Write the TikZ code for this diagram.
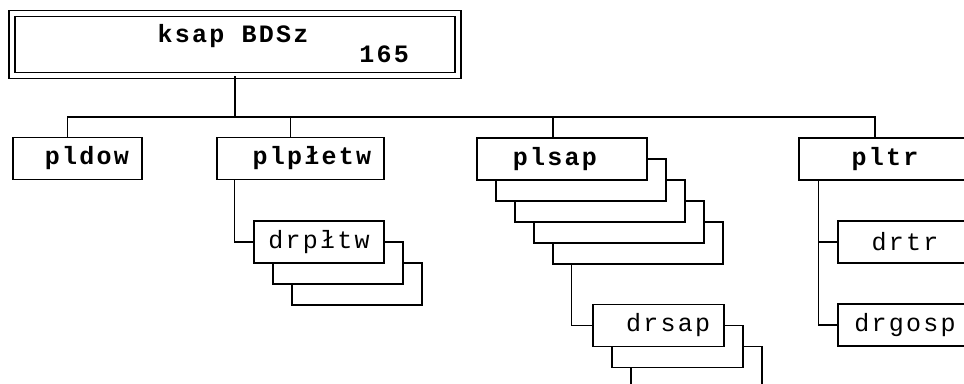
\documentclass[tikz,border=0pt]{standalone}
\usepackage{fontspec}
\usepackage{tikz}
\newfontfamily\boxfont{Liberation Mono}[LetterSpace=9]

\begin{document}
\begin{tikzpicture}[x=1pt, y=-1pt, line width=1.3pt,
    box/.style={draw, fill=white, minimum height=42pt, inner sep=0pt,
                font=\boxfont\fontsize{25}{27}\selectfont},
    plbox/.style={box, font=\boxfont\bfseries\fontsize{25}{27}\selectfont},
    topbox/.style={draw, double, double distance=4.7pt, minimum width=446pt,
                   minimum height=62.5pt, inner sep=0pt},
    titletext/.style={inner sep=0pt, anchor=base, font=\boxfont\bfseries\fontsize{25}{27}\selectfont}]

    \useasboundingbox (0,0) rectangle (964,383);

    % Top box
    \node[topbox] (ksap) at (235,44.5) {};
    \node[titletext] (title) at (233,42) {ksap BDSz};
    \node[titletext] (num) at (384,62) {165};

    % First level
    \node[plbox, minimum width=129pt] (pldow) at (77.5,158.5) {\hspace*{19pt}pldow};
    \node[plbox, minimum width=167pt] (plpletw) at (300.5,158.5) {\hspace*{23pt}plpłetw};
    \node[plbox, minimum width=170pt] (sap4) at (638,243) {};
    \node[plbox, minimum width=170pt] (sap3) at (619,222) {};
    \node[plbox, minimum width=170pt] (sap2) at (600,201) {};
    \node[plbox, minimum width=170pt] (sap1) at (581,180) {};
    \node[plbox, minimum width=170pt] (plsap) at (562,159) {plsap\hspace*{14pt}};
    \node[plbox, minimum width=172pt] (pltr) at (885,159) {pltr};

    % Second level
    \node[box, minimum width=130pt] (drpltw2) at (357,284) {};
    \node[box, minimum width=130pt] (drpltw1) at (338,263) {};
    \node[box, minimum width=130pt] (drpltw) at (319,242) {drpłtw};
    \node[box, minimum width=131pt] (drsap2) at (696.5,367.5) {};
    \node[box, minimum width=131pt] (drsap1) at (677.5,346.5) {};
    \node[box, minimum width=131pt] (drsap) at (658.5,325.5) {\hspace*{19pt}drsap};
    \node[box, minimum width=134pt] (drtr) at (905,242) {drtr};
    \node[box, minimum width=134pt] (drgosp) at (905,325) {drgosp};

    % Bus
    \coordinate (bus) at (235,117);
    \draw (ksap.south) -- (bus);
    \draw ([xshift=-10pt]pldow.north) |- (bus) -| ([xshift=-10pt]pltr.north);
    \draw (bus) -| ([xshift=-10pt]plpletw.north);
    \draw (bus) -| ([xshift=-9pt]plsap.north);

    % Links to second level
    \draw ([xshift=18pt]plpletw.south west) |- (drpltw.west);
    \draw ([xshift=19pt]sap4.south west) |- (drsap.west);
    \draw ([xshift=20pt]pltr.south west) |- (drgosp.west);
    \draw ([xshift=20pt]pltr.south west) |- (drtr.west);

\end{tikzpicture}
\end{document}
